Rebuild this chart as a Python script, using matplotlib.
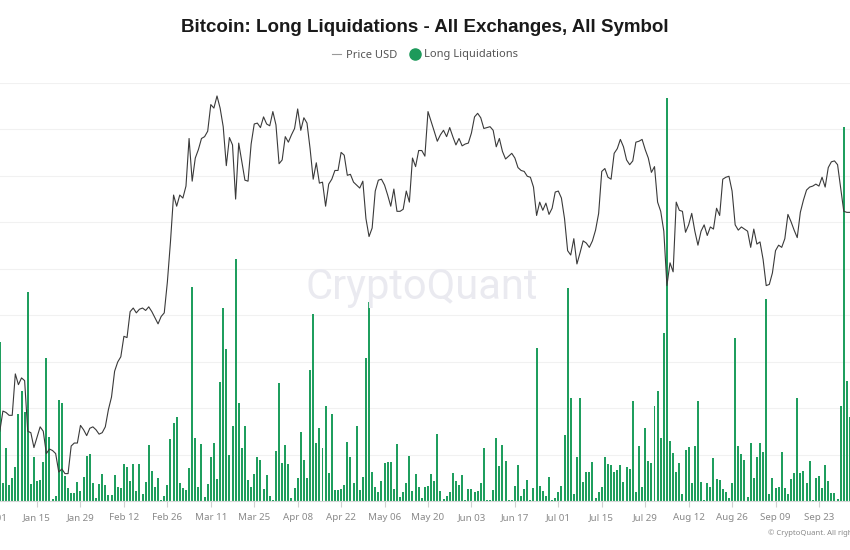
import numpy as np
import pandas as pd
import matplotlib
matplotlib.use('Agg')
from matplotlib import pyplot as plt
from matplotlib.lines import Line2D
import matplotlib.dates as mdates


plt.rcParams['font.family'] = ['Noto Sans', 'DejaVu Sans']

# daily long liquidations, million USD (Jan 03 .. Oct 03 2024)
liq_jan = [171.6, 19.0, 56.7, 17.2, 24.4, 37.0, 93.3, 118.4, 95.5, 224.7, 17.9, 47.0, 21.5, 22.6, 41.6,
           153.6, 69.3, 2.2, 5.7, 108.7, 105.2, 27.3, 13.6, 8.3, 8.3, 20.8, 10.8, 26.2, 48.8]
liq_feb = [50.2, 19.0, 3.6, 18.3, 28.7, 17.2, 6.5, 6.5, 28.0, 15.4, 13.6, 39.8, 37.0, 21.9, 39.5,
           10.8, 39.5, 7.2, 20.8, 60.3, 32.3, 15.4, 24.4, 1.1, 5.7, 17.2, 66.4, 83.6, 90.8]
liq_mar = [19.0, 13.6, 11.8, 35.9, 230.8, 67.5, 15.4, 61.0, 4.3, 18.3, 47.0, 62.1, 23.7, 127.8, 208.2,
           163.3, 49.5, 81.1, 260.6, 105.9, 56.7, 80.8, 22.3, 15.4, 28.7, 47.7, 44.1, 12.9, 28.0, 5.7, 1.4]
liq_apr = [53.8, 127.4, 41.3, 60.3, 39.5, 3.6, 13.6, 25.1, 74.7, 44.1, 24.4, 140.7, 201.0, 62.1, 79.0,
           56.7, 102.6, 29.8, 94.0, 11.8, 11.8, 12.6, 17.2, 63.9, 47.7, 19.7, 81.1, 11.5, 26.2, 153.6]
liq_may = [214.6, 31.6, 15.4, 10.0, 21.5, 41.3, 42.0, 41.6, 12.6, 61.0, 4.7, 10.0, 19.0, 48.8, 10.8,
           28.7, 15.4, 3.6, 14.7, 16.5, 28.7, 21.5, 71.8, 10.8, 2.2, 5.7, 9.3, 29.8, 21.5, 17.2, 28.0]
liq_jun = [1.1, 12.9, 12.9, 9.3, 10.8, 19.0, 57.4, 1.1, 1.1, 12.2, 68.2, 37.7, 60.3, 43.1, 1.1,
           1.1, 16.5, 38.8, 5.7, 12.9, 22.3, 1.1, 13.6, 165.1, 16.5, 10.8, 5.4, 25.5, 1.1, 3.6]
liq_jul = [10.0, 16.5, 71.1, 229.7, 111.3, 7.9, 47.0, 111.3, 20.1, 31.6, 31.6, 42.3, 2.9, 9.3, 14.7,
           47.0, 39.5, 38.8, 30.9, 33.4, 38.8, 20.8, 37.0, 34.1, 107.7, 9.3, 59.6, 15.1, 78.2, 43.1, 41.3]
liq_aug = [102.6, 118.4, 67.5, 180.5, 434.3, 65.0, 51.3, 31.6, 40.6, 7.2, 54.9, 58.5, 19.7, 59.2, 107.7,
           20.1, 1.1, 19.0, 15.4, 45.9, 23.7, 22.3, 12.6, 9.3, 3.6, 19.0, 175.1, 59.2, 50.2, 44.1, 4.3]
liq_sep = [62.8, 25.1, 47.4, 62.1, 53.1, 217.1, 7.5, 25.1, 14.4, 15.1, 53.1, 13.6, 7.2, 23.7, 29.8,
           110.5, 29.8, 32.7, 19.0, 43.1, 1.1, 25.1, 27.3, 13.6, 38.8, 21.5, 8.3, 8.3, 2.2, 102.6]
liq_oct = [402.3, 129.2, 90.8]

# daily BTC price, thousand USD
px_jan = [42.7, 44.1, 44.0, 43.8, 43.8, 46.8, 46.0, 46.5, 46.3, 42.7, 42.6, 41.6, 42.3, 43.0, 42.7,
          41.2, 41.5, 41.4, 41.2, 40.0, 40.2, 39.9, 39.9, 41.7, 41.9, 41.9, 43.1, 42.8, 42.4]
px_feb = [42.9, 43.0, 42.8, 42.5, 42.6, 43.0, 44.2, 45.1, 47.0, 47.7, 48.1, 49.7, 49.6, 51.7, 52.0,
          51.6, 51.9, 52.0, 51.8, 52.1, 51.7, 51.2, 50.7, 51.3, 51.6, 54.2, 57.8, 62.3, 61.2]
px_mar = [62.3, 62.0, 63.2, 68.2, 63.7, 66.1, 67.0, 68.2, 68.4, 69.0, 72.0, 71.6, 73.0, 71.6, 69.5,
          65.3, 68.3, 67.5, 61.9, 67.7, 65.7, 63.8, 63.7, 67.6, 69.8, 69.9, 69.4, 70.6, 69.8, 69.6, 71.2]
px_apr = [69.7, 65.5, 65.9, 68.4, 67.8, 68.6, 69.3, 71.5, 69.1, 70.5, 69.9, 67.1, 63.9, 65.6, 63.5,
          63.6, 61.2, 63.4, 63.9, 64.8, 64.8, 66.7, 66.4, 64.3, 64.4, 63.6, 63.3, 63.0, 63.7, 60.0]
px_may = [58.3, 59.1, 62.7, 63.8, 63.9, 63.3, 62.3, 61.2, 62.9, 60.7, 60.7, 60.9, 62.7, 61.6, 66.1,
          65.2, 66.9, 66.9, 66.3, 71.2, 70.1, 69.0, 67.9, 68.6, 69.1, 68.4, 69.4, 68.4, 67.5, 68.2, 67.4]
px_jun = [67.6, 67.7, 68.8, 70.6, 71.0, 70.5, 69.3, 69.4, 69.5, 69.1, 67.3, 68.2, 66.8, 66.0, 66.3,
          66.6, 66.1, 65.1, 64.8, 64.7, 64.2, 64.1, 63.1, 60.3, 61.6, 60.8, 61.5, 60.4, 61.0, 62.6]
px_jul = [62.7, 62.0, 60.0, 57.0, 56.6, 58.1, 55.8, 56.8, 57.9, 57.7, 57.3, 57.9, 58.9, 60.5, 64.7,
          65.0, 64.1, 63.9, 66.6, 67.1, 68.1, 67.3, 65.9, 65.4, 65.8, 67.8, 67.9, 68.1, 67.0, 66.1, 64.6]
px_aug = [65.2, 61.6, 60.7, 58.8, 53.9, 55.9, 55.1, 61.6, 60.8, 60.7, 58.7, 59.4, 60.5, 58.8, 57.5,
          58.8, 59.4, 58.4, 59.2, 59.0, 61.0, 60.3, 63.9, 64.1, 64.2, 62.7, 59.4, 58.9, 59.2, 59.0, 58.8]
px_sep = [57.3, 59.0, 57.6, 57.8, 56.2, 53.9, 54.0, 55.0, 57.0, 57.5, 57.3, 58.1, 60.4, 59.7, 58.9,
          58.2, 60.6, 61.8, 62.8, 63.1, 63.2, 63.4, 63.2, 64.1, 63.1, 65.1, 65.7, 65.8, 65.4, 63.0]
px_oct = [60.7, 60.6, 60.6]

liq   = np.array(liq_jan + liq_feb + liq_mar + liq_apr + liq_may + liq_jun + liq_jul + liq_aug + liq_sep + liq_oct)
price = np.array(px_jan + px_feb + px_mar + px_apr + px_may + px_jun + px_jul + px_aug + px_sep + px_oct) * 1000
dates = pd.date_range('2024-01-03', periods=len(liq), freq='D')
assert len(price) == len(liq)

tick_dates = pd.date_range('2024-01-01', '2024-09-23', freq='14D')

green = '#1d9a5b'

W, H = 850, 550
fig = plt.figure(figsize=(W/100, H/100), dpi=100)
fig.patch.set_facecolor('white')

# the plot area runs a bit past the picture on both sides (cropped chart)
x_left, x_right = -6.4, 871.7
ax = fig.add_axes([x_left/W, 49/H, (x_right - x_left)/W, 418/H])
ax.bar(dates, liq, width=0.64, color='#1f9e5e', edgecolor='none', zorder=2)
ax.set_ylim(0, 450)
ax.set_yticks(np.arange(0, 451, 50))
ax.set_yticklabels([])
ax.tick_params(axis='y', length=0)
ax.grid(axis='y', color='#f1f1f1', linewidth=0.8, zorder=0)
ax.set_axisbelow(True)
ax.set_xlim(pd.Timestamp('2024-01-01'), pd.Timestamp('2024-10-10'))
ax.set_xticks(tick_dates)
ax.xaxis.set_major_formatter(mdates.DateFormatter('%b %d'))
ax.tick_params(axis='x', length=4, color='#d0d0d0', labelsize=7, labelcolor='#8a8a8a', pad=5)
for s in ['top', 'right', 'left']:
    ax.spines[s].set_visible(False)
ax.spines['bottom'].set_color('#d6d6d6')
ax.spines['bottom'].set_linewidth(0.8)

fig.text(422/W, 1 - 287/H, 'CryptoQuant', ha='center', va='center',
         fontsize=30, color='#eaeaf0', family='Roboto', zorder=0.5)

ax2 = ax.twinx()
ax2.plot(dates, price, color='#3a3a3a', linewidth=0.8)
ax2.set_yscale('log')
ax2.set_ylim(38190, 74530)
ax2.set_yticks([])
ax2.minorticks_off()
for s in ['top', 'right', 'left', 'bottom']:
    ax2.spines[s].set_visible(False)

fig.text(0.5, 1 - 28/H, 'Bitcoin: Long Liquidations - All Exchanges, All Symbol',
         ha='center', va='center', fontsize=13.5, fontweight='bold', color='#1a1a1a',
         family=['Liberation Sans', 'DejaVu Sans'])

handles = [Line2D([], [], color='#9a9a9a', linewidth=0.8),
           Line2D([], [], color=green, marker='o', markersize=8, linestyle='none')]
fig.legend(handles, ['Price USD', 'Long Liquidations'], loc='center', bbox_to_anchor=(0.5, 1 - 55/H),
           ncol=2, frameon=False, fontsize=8, handlelength=0.8, handletextpad=0.4, columnspacing=1.2,
           labelcolor='#555555')

fig.text(768/W, 1 - 533/H, '\u00a9 CryptoQuant. All rights reserved.', ha='left', va='center',
         fontsize=5.5, color='#8a8a8a')

fig.savefig('out.png', dpi=100)
